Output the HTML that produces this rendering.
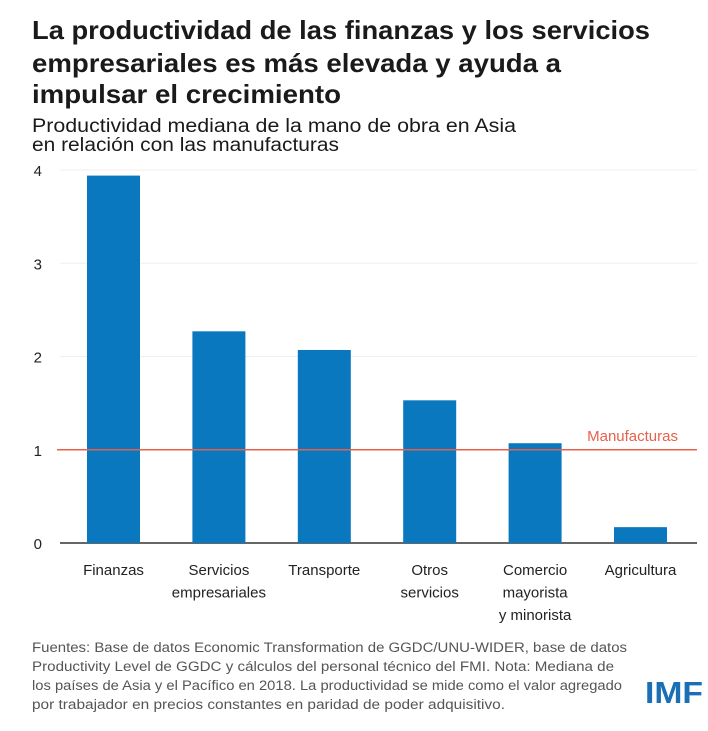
<!DOCTYPE html>
<html><head><meta charset="utf-8"><style>
html,body{margin:0;padding:0;background:#fff;}
svg{display:block;font-family:"Liberation Sans",sans-serif;}
</style></head><body>
<svg id="chart" width="708" height="731" viewBox="0 0 708 731">
<g font-weight="bold" font-size="26" fill="#1a1a1a">
<text x="32" y="39" textLength="618" lengthAdjust="spacingAndGlyphs">La productividad de las finanzas y los servicios</text>
<text x="32" y="72" textLength="529" lengthAdjust="spacingAndGlyphs">empresariales es más elevada y ayuda a</text>
<text x="32" y="103" textLength="309" lengthAdjust="spacingAndGlyphs">impulsar el crecimiento</text>
</g>
<g font-size="19" fill="#1a1a1a">
<text x="32" y="132" textLength="484" lengthAdjust="spacingAndGlyphs">Productividad mediana de la mano de obra en Asia</text>
<text x="32" y="151" textLength="307" lengthAdjust="spacingAndGlyphs">en relación con las manufacturas</text>
</g>
<g id="grid"></g>
<g id="bars"></g>
<g id="yticks"></g>
<g id="xlabels"></g>
<g id="ref"></g>
<g font-size="13.5" fill="#555">
<text x="32" y="652" textLength="595" lengthAdjust="spacingAndGlyphs">Fuentes: Base de datos Economic Transformation de GGDC/UNU-WIDER, base de datos</text>
<text x="32" y="671" textLength="582" lengthAdjust="spacingAndGlyphs">Productivity Level de GGDC y cálculos del personal técnico del FMI. Nota: Mediana de</text>
<text x="32" y="690" textLength="590" lengthAdjust="spacingAndGlyphs">los países de Asia y el Pacífico en 2018. La productividad se mide como el valor agregado</text>
<text x="32" y="709" textLength="473" lengthAdjust="spacingAndGlyphs">por trabajador en precios constantes en paridad de poder adquisitivo.</text>
</g>
<text x="645" y="703" font-size="31" font-weight="bold" fill="#1a6fb5" textLength="58" lengthAdjust="spacingAndGlyphs">IMF</text>
</svg>
<script>
const categories=[["Finanzas"],["Servicios","empresariales"],["Transporte"],["Otros","servicios"],["Comercio","mayorista","y minorista"],["Agricultura"]];
const values=[3.94,2.27,2.07,1.53,1.07,0.17];
const yTicks=[0,1,2,3,4];
const refValue=1;
const refLabel="Manufacturas";
const NS="http://www.w3.org/2000/svg";
const plotL=60,plotR=697,y0=543,pxPerUnit=93.25,firstCenter=113.5,step=105.4,barW=53;
function y(v){return y0-v*pxPerUnit;}
function xc(i){return firstCenter+i*step;}
function mk(tag,attrs,parent){const e=document.createElementNS(NS,tag);for(const k in attrs)e.setAttribute(k,attrs[k]);parent.appendChild(e);return e;}
const grid=document.getElementById('grid'),bars=document.getElementById('bars'),yt=document.getElementById('yticks'),xl=document.getElementById('xlabels'),ref=document.getElementById('ref');
yTicks.forEach(t=>{
  if(t>0){const l=mk('line',{x1:plotL,x2:plotR,y1:y(t),y2:y(t),stroke:'#efefef','stroke-width':1},grid);
  
  }
  const tx=mk('text',{x:42,y:y(t)+6,'text-anchor':'end','font-size':15,fill:'#222'},yt);
  tx.textContent=t;
  
  
});
values.forEach((v,i)=>{
  const r=mk('rect',{x:xc(i)-barW/2,y:y(v),width:barW,height:y0-y(v),fill:'#0a78bf'},bars);
  
  
  categories[i].forEach((line,j)=>{
    const t=mk('text',{x:xc(i),y:575+j*22.5,'text-anchor':'middle','font-size':15,fill:'#222'},xl);
    t.textContent=line;
    
    
  });
});
const axis=mk('line',{x1:plotL,x2:plotR,y1:y0,y2:y0,stroke:'#333','stroke-width':1.5},grid);


const rl=mk('line',{x1:57,x2:plotR,y1:y(refValue),y2:y(refValue),stroke:'#e8604c','stroke-width':1.5},ref);


const rt=mk('text',{x:678,y:y(refValue)-9,'text-anchor':'end','font-size':15,fill:'#e8604c'},ref);
rt.textContent=refLabel;


</script>
</body></html>
